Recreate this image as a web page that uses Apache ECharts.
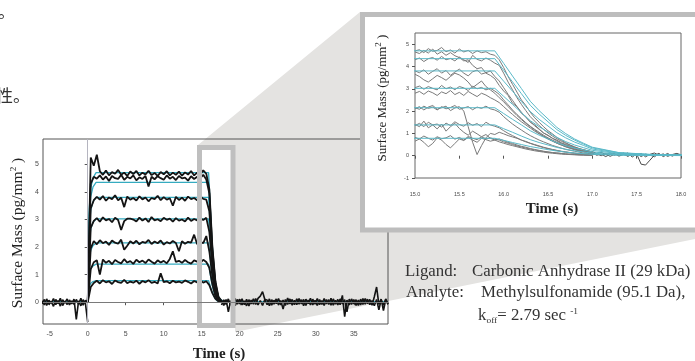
<!DOCTYPE html>
<html>
<head>
<meta charset="utf-8">
<script src="https://cdn.jsdelivr.net/npm/echarts@6/dist/echarts.min.js"></script>
<style>
  html, body { margin: 0; padding: 0; background: #fff; }
  #chart { width: 695px; height: 361px; }
</style>
</head>
<body>
<div id="chart"></div>
<script>
// ---- axis ticks ----
const mainXTicks = [-5, 0, 5, 10, 15, 20, 25, 30, 35];
const mainYTicks = [0, 1, 2, 3, 4, 5];
const insetXTicks = [15, 15.5, 16, 16.5, 17, 17.5, 18];
const insetYTicks = [-1, 0, 1, 2, 3, 4, 5];

// reference lines
const injectionTime = 0;
const zeroLevel = 0;

// ---- kinetic fits (cyan), sampled at fitTimes ----
const fitTimes = [-5.9, 0, 0.08, 0.2, 0.4, 0.7, 1.1, 15.9, 16.0, 16.1, 16.2, 16.3, 16.4, 16.5, 16.6, 16.7, 16.8, 16.9, 17.0, 17.3, 17.7, 18.5, 39.5];
const fit470 = [0, 0, 2.12, 3.38, 4.14, 4.51, 4.70, 4.70, 4.14, 3.57, 3.01, 2.44, 2.02, 1.65, 1.27, 0.99, 0.75, 0.56, 0.38, 0.14, 0.05, 0, 0];
const fit435 = [0, 0, 1.96, 3.13, 3.83, 4.18, 4.35, 4.35, 3.83, 3.31, 2.78, 2.26, 1.87, 1.52, 1.17, 0.91, 0.70, 0.52, 0.35, 0.13, 0.04, 0, 0];
const fit380 = [0, 0, 1.71, 2.74, 3.34, 3.65, 3.80, 3.80, 3.34, 2.89, 2.43, 1.98, 1.63, 1.33, 1.03, 0.80, 0.61, 0.46, 0.30, 0.11, 0.04, 0, 0];
const fit302 = [0, 0, 1.36, 2.17, 2.66, 2.90, 3.02, 3.02, 2.66, 2.30, 1.93, 1.57, 1.30, 1.06, 0.82, 0.63, 0.48, 0.36, 0.24, 0.09, 0.03, 0, 0];
const fit215 = [0, 0, 0.97, 1.55, 1.89, 2.06, 2.15, 2.15, 1.89, 1.63, 1.38, 1.12, 0.92, 0.75, 0.58, 0.45, 0.34, 0.26, 0.17, 0.06, 0.02, 0, 0];
const fit138 = [0, 0, 0.62, 0.99, 1.21, 1.32, 1.38, 1.38, 1.21, 1.05, 0.88, 0.72, 0.59, 0.48, 0.37, 0.29, 0.22, 0.17, 0.11, 0.04, 0.01, 0, 0];
const fit078 = [0, 0, 0.35, 0.56, 0.69, 0.75, 0.78, 0.78, 0.69, 0.59, 0.50, 0.41, 0.34, 0.27, 0.21, 0.16, 0.12, 0.09, 0.06, 0.02, 0.01, 0, 0];

// ---- full-run sensorgrams: association + dissociation, t = 0 .. 17.6 s every 0.4 s ----
const runStart = 0, runStep = 0.4;
const run468 = [0, 5.25, 4.95, 5.35, 4.75, 4.62, 4.78, 4.60, 4.72, 4.66, 4.80, 4.62, 4.70, 4.58, 4.74, 4.65, 4.76, 4.60, 4.70, 4.63, 4.77, 4.61, 4.69, 4.58, 4.72, 4.64, 4.75, 4.60, 4.70, 4.62, 4.74, 4.59, 4.71, 4.63, 4.76, 4.60, 4.70, 4.64, 4.78, 4.66, 4.10, 2.00, 0.75, 0.20, 0.05];
const run452 = [0, 4.30, 4.55, 4.48, 4.60, 4.45, 4.56, 4.40, 4.58, 4.50, 4.47, 4.62, 4.44, 4.55, 4.49, 4.60, 4.42, 4.53, 4.47, 4.58, 4.20, 4.55, 4.46, 4.57, 4.50, 4.44, 4.60, 4.48, 4.55, 4.43, 4.58, 4.49, 4.52, 4.41, 4.57, 4.47, 4.55, 4.50, 4.62, 4.45, 3.95, 1.90, 0.70, 0.15, 0.02];
const run377 = [0, 3.40, 3.70, 3.82, 3.72, 3.85, 3.68, 3.80, 3.74, 3.88, 3.70, 3.79, 3.45, 3.83, 3.72, 3.78, 3.69, 3.84, 3.73, 3.80, 3.66, 3.78, 3.74, 3.86, 3.70, 3.81, 3.72, 3.77, 3.50, 3.82, 3.71, 3.79, 3.68, 3.83, 3.74, 3.78, 3.70, 3.85, 3.75, 3.72, 3.30, 1.60, 0.60, 0.15, 0.03];
const run300 = [0, 2.70, 2.95, 3.05, 2.92, 3.08, 2.97, 3.02, 2.90, 3.06, 2.98, 2.62, 2.94, 3.03, 3.03, 3.00, 2.93, 3.07, 2.96, 3.04, 2.91, 3.09, 2.97, 3.01, 2.94, 3.06, 2.99, 3.03, 2.92, 3.05, 2.96, 3.00, 2.93, 3.07, 2.95, 3.02, 2.97, 3.04, 2.98, 3.06, 2.55, 1.30, 0.45, 0.10, 0.00];
const run218 = [0, 1.95, 2.22, 2.10, 2.25, 2.14, 2.20, 2.08, 2.24, 2.16, 2.12, 2.27, 1.90, 2.05, 2.21, 2.13, 2.23, 2.10, 2.19, 2.15, 2.26, 2.11, 2.20, 2.14, 2.24, 2.09, 2.18, 2.13, 2.22, 2.15, 1.85, 2.21, 2.12, 2.19, 2.16, 2.45, 2.10, 2.20, 2.14, 2.40, 1.85, 0.95, 0.32, 0.08, 0.00];
const run147 = [0, 1.20, 1.45, 1.52, 1.00, 1.55, 1.43, 1.50, 1.38, 1.53, 1.46, 1.41, 1.56, 1.44, 1.49, 1.39, 1.54, 1.45, 1.51, 1.42, 1.55, 1.47, 1.40, 1.52, 1.44, 1.50, 1.41, 1.57, 1.85, 1.46, 1.50, 1.43, 1.53, 1.45, 1.40, 1.52, 1.47, 1.42, 1.54, 1.46, 1.25, 0.65, 0.22, 0.05, 0.00];
const run074 = [0, 0.55, 0.70, 0.78, 0.68, 0.80, 0.72, 0.76, 0.66, 0.79, 0.73, 0.70, 0.81, 0.69, 0.75, 0.71, 0.78, 0.67, 0.77, 0.72, 0.80, 0.70, 0.74, 0.68, 1.05, 0.73, 0.76, 0.69, 0.78, 0.72, 0.75, 0.70, 0.79, 0.74, 0.68, 0.77, 0.72, 0.80, 0.71, 0.76, 0.62, 0.33, 0.12, 0.03, 0.00];

// ---- buffer baselines ----
const preStart = -6.0, preStep = 0.3;
const preBaseA = [0.05, -0.10, 0.12, -0.08, 0.02, -0.15, 0.10, -0.05, 0.14, -0.12, 0.03, -0.08, 0.08, -0.06, 0.11, -0.62, 0.05, -0.13, 0.09, -0.04, -0.72];
const preBaseB = [-0.06, 0.10, -0.12, 0.07, -0.03, 0.13, -0.09, 0.06, -0.14, 0.09, -0.02, 0.12, -0.10, 0.05, -0.08, 0.10, -0.07, 0.14, -0.11, 0.06, 0.02];
const postStart = 17.6, postStep = 0.3;
const postBaseA = [0.08, -0.12, 0.10, -0.35, 0.06, -0.09, 0.13, -0.07, 0.11, -0.10,
  0.05, -0.13, 0.09, -0.06, 0.12, -0.08, 0.14, 0.22, 0.38, 0.10,
  -0.09, 0.12, -0.11, 0.07, -0.05, 0.13, -0.10, 0.08, -0.12, 0.15,
  -0.06, 0.10, -0.09, 0.12, -0.07, 0.09, -0.13, 0.11, -0.05, 0.14,
  -0.10, 0.07, -0.12, 0.10, -0.08, 0.13, -0.06, 0.09, -0.11, 0.12,
  -0.07, 0.10, -0.09, 0.25, -0.52, 0.08, -0.10, 0.12, -0.06, 0.09,
  -0.12, 0.11, -0.08, 0.13, -0.05, 0.10, -0.11, 0.20, 0.55, -0.08,
  0.11, -0.30, 0.09, -0.07];
const postBaseB = [-0.10, 0.09, -0.08, 0.12, -0.11, 0.07, -0.13, 0.10, -0.06, 0.12,
  -0.09, 0.11, -0.14, 0.08, -0.07, 0.13, -0.10, 0.06, -0.12, 0.10,
  0.08, -0.13, 0.09, -0.07, 0.12, -0.10, 0.06, -0.25, 0.10, -0.08,
  0.12, -0.11, 0.07, -0.09, 0.13, -0.06, 0.10, -0.12, 0.08, -0.10,
  0.11, -0.07, 0.13, -0.09, 0.06, -0.12, 0.10, -0.08, 0.14, -0.11,
  0.07, -0.10, 0.12, -0.06, 0.09, -0.35, 0.11, -0.08, 0.10, -0.12,
  0.08, -0.10, 0.13, -0.07, 0.11, -0.09, 0.06, -0.13, 0.10, -0.28,
  0.09, -0.11, 0.12, -0.08];

// ---- dissociation detail, t = 15.00 .. 17.00 s every 0.05 s ----
const detailStart = 15, detailStep = 0.05;
const det1 = [4.70, 4.75, 4.62, 4.80, 4.68, 4.72, 4.85, 4.66, 4.74, 4.60, 4.78, 4.65, 4.72, 4.58, 4.70, 4.62, 4.66, 4.55, 4.50, 4.30, 3.95, 3.55, 3.20, 2.85, 2.50, 2.25, 1.95, 1.70, 1.50, 1.30, 1.12, 0.98, 0.82, 0.70, 0.58, 0.48, 0.40, 0.32, 0.26, 0.22, 0.18];
const det2 = [4.65, 4.58, 4.72, 4.60, 4.78, 4.55, 4.66, 4.50, 4.62, 4.48, 4.40, 4.25, 4.30, 4.05, 3.90, 3.95, 3.70, 3.60, 3.45, 3.15, 2.90, 2.70, 2.35, 2.20, 1.90, 1.75, 1.50, 1.38, 1.20, 1.02, 0.92, 0.78, 0.70, 0.58, 0.50, 0.42, 0.35, 0.30, 0.25, 0.20, 0.15];
const det3 = [4.30, 4.38, 4.22, 4.35, 4.40, 4.28, 4.45, 4.30, 4.36, 4.25, 4.42, 4.30, 4.18, 4.50, 4.32, 4.25, 4.38, 4.28, 4.15, 4.05, 3.70, 3.30, 2.95, 2.60, 2.30, 2.02, 1.75, 1.55, 1.35, 1.18, 1.02, 0.88, 0.76, 0.65, 0.55, 0.46, 0.38, 0.32, 0.27, 0.22, 0.17];
const det4 = [3.80, 3.72, 3.85, 3.65, 3.78, 3.90, 3.70, 3.82, 3.60, 3.75, 3.88, 3.70, 3.58, 3.76, 3.84, 3.66, 3.72, 3.80, 3.55, 3.35, 3.05, 2.75, 2.48, 2.20, 1.95, 1.72, 1.52, 1.34, 1.18, 1.02, 0.90, 0.78, 0.66, 0.56, 0.48, 0.40, 0.34, 0.28, 0.22, 0.18, 0.14];
const det5 = [3.65, 3.55, 3.40, 3.30, 3.45, 3.60, 3.50, 3.38, 3.55, 3.70, 3.62, 3.48, 3.30, 3.05, 3.20, 3.35, 3.10, 2.95, 2.80, 2.60, 2.42, 2.20, 2.00, 1.80, 1.62, 1.45, 1.30, 1.15, 1.00, 0.88, 0.76, 0.66, 0.56, 0.48, 0.40, 0.33, 0.27, 0.22, 0.18, 0.14, 0.10];
const det6 = [3.05, 3.12, 2.98, 3.10, 3.02, 2.95, 3.15, 3.00, 3.08, 2.96, 3.10, 3.04, 2.92, 3.12, 3.00, 3.06, 2.95, 3.02, 2.90, 2.75, 2.50, 2.28, 2.05, 1.85, 1.66, 1.48, 1.32, 1.18, 1.05, 0.92, 0.80, 0.70, 0.60, 0.52, 0.44, 0.37, 0.30, 0.25, 0.20, 0.16, 0.12];
const det7 = [2.80, 2.88, 2.75, 2.90, 2.82, 2.70, 2.86, 2.78, 2.92, 2.74, 2.84, 2.70, 2.88, 2.76, 2.65, 2.80, 2.72, 2.60, 2.50, 2.38, 2.20, 2.02, 1.85, 1.68, 1.52, 1.38, 1.24, 1.10, 0.98, 0.86, 0.75, 0.65, 0.56, 0.48, 0.40, 0.34, 0.28, 0.22, 0.18, 0.14, 0.10];
const det8 = [2.10, 2.20, 2.05, 2.18, 2.25, 2.08, 2.15, 2.22, 2.02, 2.14, 2.20, 2.00, 1.30, 0.60, 0.05, 0.45, 0.80, 1.00, 0.95, 1.05, 0.98, 0.90, 0.84, 0.78, 0.70, 0.64, 0.56, 0.50, 0.44, 0.38, 0.33, 0.28, 0.24, 0.20, 0.17, 0.14, 0.11, 0.09, 0.07, 0.05, 0.04];
const det9 = [2.15, 2.08, 2.22, 2.12, 2.18, 2.05, 2.20, 2.10, 2.16, 2.25, 2.08, 2.14, 2.20, 2.06, 2.18, 2.12, 2.22, 2.10, 2.05, 1.95, 1.75, 1.58, 1.42, 1.28, 1.15, 1.02, 0.90, 0.80, 0.70, 0.62, 0.54, 0.46, 0.40, 0.34, 0.28, 0.24, 0.20, 0.16, 0.12, 0.10, 0.08];
const det10 = [1.35, 1.45, 1.30, 1.50, 1.38, 1.42, 1.28, 1.46, 1.35, 1.52, 1.40, 1.32, 1.48, 1.36, 1.44, 1.30, 1.50, 1.38, 1.32, 1.25, 1.12, 1.00, 0.90, 0.80, 0.70, 0.62, 0.55, 0.48, 0.42, 0.36, 0.31, 0.27, 0.23, 0.19, 0.16, 0.13, 0.11, 0.09, 0.07, 0.06, 0.05];
const det11 = [1.40, 1.30, 1.55, 1.25, 1.38, 1.20, 1.42, 1.10, 1.30, 1.45, 1.22, 1.05, 0.92, 1.10, 0.98, 0.85, 0.95, 0.78, 0.70, 0.75, 0.68, 0.60, 0.55, 0.48, 0.42, 0.38, 0.32, 0.28, 0.24, 0.20, 0.17, 0.14, 0.12, 0.10, 0.08, 0.06, 0.05, 0.04, 0.03, 0.02, 0.02];
const det12 = [0.65, 0.75, 0.60, 0.40, 0.55, 0.80, 0.70, 0.50, 0.35, 0.55, 0.75, 0.68, 0.82, 0.70, 0.60, 0.78, 0.72, 0.65, 0.70, 0.62, 0.56, 0.50, 0.45, 0.40, 0.35, 0.30, 0.26, 0.22, 0.19, 0.16, 0.13, 0.11, 0.09, 0.07, 0.06, 0.05, 0.04, 0.03, 0.03, 0.02, 0.02];
const det13 = [0.82, 0.75, 0.88, 0.78, 0.70, 0.85, 0.76, 0.80, 0.90, 0.74, 0.82, 0.70, 0.86, 0.78, 0.72, 0.84, 0.76, 0.80, 0.74, 0.70, 0.62, 0.56, 0.50, 0.44, 0.39, 0.34, 0.30, 0.26, 0.22, 0.19, 0.16, 0.14, 0.12, 0.10, 0.08, 0.07, 0.06, 0.05, 0.04, 0.03, 0.03];

// late baseline in the detail view, t = 17.00 .. 18.00 s every 0.05 s
const tailStart = 17, tailStep = 0.05;
const tail1 = [0.18, 0.10, 0.15, 0.05, 0.12, 0.02, 0.10, 0.06, -0.02, 0.08, 0.03, 0.10, -0.05, 0.06, 0.12, 0.02, 0.08, -0.03, 0.05, 0.10, 0.04];
const tail2 = [0.12, 0.02, 0.08, -0.04, 0.06, 0.10, -0.02, 0.05, 0.12, -0.06, 0.08, -0.38, -0.42, -0.20, 0.02, 0.10, -0.04, 0.06, 0.00, 0.08, 0.02];
const tail3 = [0.04, 0.08, 0.00, 0.10, -0.03, 0.06, 0.02, 0.12, -0.02, 0.05, 0.09, -0.04, 0.07, 0.03, -0.05, 0.08, 0.01, 0.10, -0.02, 0.06, 0.05];

// ---- helpers ----
const sampled = (start, step, values) => values.map((v, i) => [+(start + i * step).toFixed(3), v]);
const paired = (xs, ys) => xs.map((x, i) => [x, ys[i]]);

const SERIF = '"Liberation Serif", "Times New Roman", serif';
const SANS = '"Liberation Sans", Arial, sans-serif';
const TRACE = '#141414';
const CYAN = '#35abc0';
const GREY_TRACE = '#7a7a7a';

function line(data, grid, color, width, z, extra) {
  return Object.assign({
    type: 'line', data, xAxisIndex: grid, yAxisIndex: grid,
    showSymbol: false, symbol: 'none', silent: true, animation: false,
    lineStyle: { color, width }, z
  }, extra || {});
}

const series = [];
const fits = [fit470, fit435, fit380, fit302, fit215, fit138, fit078];

// main panel: fits underneath the raw traces
fits.forEach(f => series.push(line(paired(fitTimes, f), 0, CYAN, 1.3, 3)));
series.push(line(sampled(preStart, preStep, preBaseA), 0, TRACE, 1.6, 4, {
  markLine: {
    silent: true, symbol: 'none', animation: false, label: { show: false },
    data: [
      { xAxis: injectionTime, lineStyle: { color: '#b5b5c0', width: 1, type: 'solid' } },
      { yAxis: zeroLevel, lineStyle: { color: '#7a7a7a', width: 1, type: 'solid' } }
    ]
  }
}));
series.push(line(sampled(preStart, preStep, preBaseB), 0, TRACE, 1.6, 4));
series.push(line(sampled(postStart, postStep, postBaseA), 0, TRACE, 1.6, 4));
series.push(line(sampled(postStart, postStep, postBaseB), 0, TRACE, 1.6, 4));
[run468, run452, run377, run300, run218, run147, run074].forEach(r =>
  series.push(line(sampled(runStart, runStep, r), 0, TRACE, 1.8, 4)));

// detail panel
series.push(line(sampled(tailStart, tailStep, tail3), 1, '#555', 1, 21, {
  markLine: {
    silent: true, symbol: 'none', animation: false, label: { show: false },
    data: [{ yAxis: zeroLevel, lineStyle: { color: '#444', width: 1, type: 'solid' } }]
  }
}));
[det1, det2, det3, det4, det5, det6, det7, det8, det9, det10, det11, det12, det13].forEach(d =>
  series.push(line(sampled(detailStart, detailStep, d), 1, GREY_TRACE, 1, 21)));
[tail1, tail2].forEach(t => series.push(line(sampled(tailStart, tailStep, t), 1, '#4a4a4a', 1, 21)));
fits.forEach(f => series.push(line(paired(fitTimes, f), 1, '#5bb9c8', 1, 22)));

function valueAxis(grid, min, max, ticks, fmt, fontSize, margin, z) {
  return {
    type: 'value', gridIndex: grid, min, max, z,
    axisLine: { show: false },
    splitLine: { show: false },
    axisTick: { show: true, customValues: ticks, length: 3, inside: false, lineStyle: { color: '#555', width: 1 } },
    axisLabel: { show: true, customValues: ticks, formatter: fmt, fontSize, color: '#4a4a4a', fontFamily: SANS, margin }
  };
}

const supRich = {
  sup: { fontSize: 9, fontFamily: SERIF, color: '#222', verticalAlign: 'top', lineHeight: 18 },
  sub: { fontSize: 9, fontFamily: SERIF, color: '#222', verticalAlign: 'bottom', lineHeight: 18 }
};

function label(x, y, text, size, opts) {
  return Object.assign({
    type: 'text', x, y, silent: true, z: 30,
    style: Object.assign({
      text, font: size + 'px ' + SERIF, fill: '#222',
      align: 'left', verticalAlign: 'middle', rich: supRich
    }, (opts && opts.style) || {})
  }, (opts && opts.el) || {});
}
const note = (x, y, text) => label(x, y, text, 16, { style: { fill: '#333' }, el: { scaleX: 1.05 } });

const option = {
  animation: false,
  backgroundColor: '#fff',
  grid: [
    { left: 43, top: 139, width: 345, height: 185, show: true, borderColor: '#555', borderWidth: 1, backgroundColor: 'transparent', z: 2, containLabel: false },
    { left: 415, top: 33, width: 266, height: 145, show: true, borderColor: '#666', borderWidth: 1, backgroundColor: 'transparent', z: 20, containLabel: false }
  ],
  xAxis: [
    valueAxis(0, -5.88, 39.5, mainXTicks, v => String(v), 7, 7, 2),
    valueAxis(1, 15, 18, insetXTicks, v => v.toFixed(1), 5.5, 13, 20)
  ],
  yAxis: [
    valueAxis(0, -0.79, 5.92, mainYTicks, v => String(v), 7, 4, 2),
    valueAxis(1, -1, 5.5, insetYTicks, v => String(v), 5.5, 6, 20)
  ],
  series,
  graphic: [
    // zoom connector shading
    { type: 'polygon', silent: true, z: 0,
      shape: { points: [[198, 145], [360, 12], [700, 12], [700, 238], [235, 332], [235, 145]] },
      style: { fill: '#e4e3e1' } },
    // highlight box on main panel
    { type: 'rect', silent: true, z: 5,
      shape: { x: 199.5, y: 147.5, width: 33.5, height: 178 },
      style: { fill: 'none', stroke: '#bfbfbf', lineWidth: 5 } },
    // detail panel frame
    { type: 'rect', silent: true, z: 10,
      shape: { x: 362.5, y: 14.5, width: 345, height: 215.5 },
      style: { fill: '#fff', stroke: '#bdbdbd', lineWidth: 5 } },
    // axis titles
    label(18, 233, 'Surface Mass (pg/mm{sup|2} )', 15.5, { style: { align: 'center' }, el: { rotation: Math.PI / 2 } }),
    label(219, 354, 'Time (s)', 15, { style: { align: 'center', font: 'bold 15px ' + SERIF } }),
    label(383, 98, 'Surface Mass (pg/mm{sup|2} )', 13, { style: { align: 'center' }, el: { rotation: Math.PI / 2 } }),
    label(552, 209, 'Time (s)', 15, { style: { align: 'center', font: 'bold 15px ' + SERIF } }),
    // experiment notes
    note(405, 272, 'Ligand:'),
    note(472, 272, 'Carbonic Anhydrase II (29 kDa)'),
    note(406, 293, 'Analyte:'),
    note(481, 293, 'Methylsulfonamide (95.1 Da),'),
    note(478, 316, 'k{sub|off}= 2.79 sec {sup|-1}'),
    // surrounding body text
    { type: 'text', x: -2, y: 12, silent: true, z: 30,
      style: { text: '。', font: '17px "Noto Sans CJK SC", sans-serif', fill: '#333', align: 'left', verticalAlign: 'middle' } },
    { type: 'text', x: -4, y: 96, silent: true, z: 30,
      style: { text: '性。', font: '17px "Noto Sans CJK SC", sans-serif', fill: '#333', align: 'left', verticalAlign: 'middle' } }
  ]
};

const chart = echarts.init(document.getElementById('chart'), null, { renderer: 'canvas' });
chart.setOption(option);
</script>
</body>
</html>
